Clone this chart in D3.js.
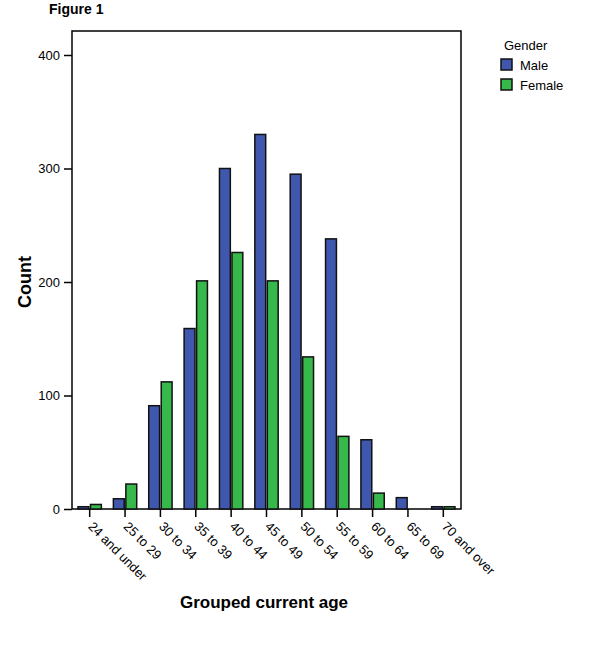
<!DOCTYPE html>
<html>
<head>
<meta charset="utf-8">
<script src="https://cdn.jsdelivr.net/npm/d3@7"></script>
<style>
  body { margin: 0; background: #fff; }
  text { font-family: "Liberation Sans", Arial, sans-serif; }
</style>
</head>
<body>
<svg id="chart" width="600" height="659"></svg>
<script>
// data
var ageGroups = ["24 and under", "25 to 29", "30 to 34", "35 to 39", "40 to 44", "45 to 49",
                 "50 to 54", "55 to 59", "60 to 64", "65 to 69", "70 and over"];
var genders = ["Male", "Female"];
var maleCounts = [2, 9, 91, 159, 300, 330, 295, 238, 61, 10, 2];
var femaleCounts = [4, 22, 112, 201, 226, 201, 134, 64, 14, 0, 2];
var yTicks = [0, 100, 200, 300, 400];
var colors = { Male: "#3f58ad", Female: "#36b84a" };

var svg = d3.select("#chart");
var plotLeft = 72, plotRight = 461, plotTop = 31, plotBottom = 509;

var x = d3.scaleBand().domain(ageGroups).range([plotLeft, plotRight])
	.paddingInner(0.34).paddingOuter(0.17);
var xInner = d3.scaleBand().domain(genders).range([0, x.bandwidth()]).paddingInner(0.13);
var y = d3.scaleLinear().domain([0, 400]).range([plotBottom, 55]);

// frame
svg.append("rect")
	.attr("x", plotLeft).attr("y", plotTop)
	.attr("width", plotRight - plotLeft).attr("height", plotBottom - plotTop)
	.attr("fill", "none").attr("stroke", "#000").attr("stroke-width", 1.5);

// bars
var rows = ageGroups.map(function (a, i) {
	return { age: a, Male: maleCounts[i], Female: femaleCounts[i] };
});
var groups = svg.append("g").selectAll("g").data(rows).enter().append("g")
	.attr("transform", function (d) { return "translate(" + x(d.age) + ",0)"; });
groups.selectAll("rect")
	.data(function (d) { return genders.map(function (g) { return { g: g, v: d[g] }; }); })
	.enter().filter(function (d) { return d.v > 0; }).append("rect")
	.attr("x", function (d) { return xInner(d.g); })
	.attr("y", function (d) { return y(d.v); })
	.attr("width", xInner.bandwidth())
	.attr("height", function (d) { return y(0) - y(d.v); })
	.attr("fill", function (d) { return colors[d.g]; })
	.attr("stroke", "#111").attr("stroke-width", 1.5);

// y axis
var yAxis = svg.append("g").attr("transform", "translate(" + plotLeft + ",0)")
	.call(d3.axisLeft(y).tickValues(yTicks).tickSize(8).tickPadding(4));
yAxis.select(".domain").remove();
yAxis.selectAll("line").attr("stroke", "#000").attr("stroke-width", 1.5);
yAxis.selectAll("text").attr("font-size", 13).attr("fill", "#000")
	.style("font-family", "Liberation Sans, Arial, sans-serif");

// x axis
var xAxis = svg.append("g").attr("transform", "translate(0," + plotBottom + ")")
	.call(d3.axisBottom(x).tickSize(8));
xAxis.select(".domain").remove();
xAxis.selectAll("line").attr("stroke", "#000").attr("stroke-width", 1.5);
xAxis.selectAll("text")
	.attr("font-size", 13).attr("fill", "#000")
	.style("font-family", "Liberation Sans, Arial, sans-serif")
	.attr("text-anchor", "start")
	.attr("x", 0).attr("y", 0).attr("dy", "0.35em")
	.attr("transform", "translate(1,15) rotate(45)");

// titles
svg.append("text").attr("x", 49).attr("y", 14)
	.attr("font-size", 14).attr("font-weight", "bold").text("Figure 1");
svg.append("text")
	.attr("transform", "translate(31,282) rotate(-90)")
	.attr("text-anchor", "middle").attr("font-size", 18).attr("font-weight", "bold")
	.text("Count");
svg.append("text").attr("x", 264).attr("y", 608)
	.attr("text-anchor", "middle").attr("font-size", 17).attr("font-weight", "bold")
	.text("Grouped current age");

// legend
var legend = svg.append("g");
legend.append("text").attr("x", 504).attr("y", 50).attr("font-size", 13).text("Gender");
genders.forEach(function (g, i) {
	legend.append("rect")
		.attr("x", 501).attr("y", 59 + i * 20)
		.attr("width", 11).attr("height", 11)
		.attr("fill", colors[g]).attr("stroke", "#111").attr("stroke-width", 1.5);
	legend.append("text")
		.attr("x", 520).attr("y", 70 + i * 20)
		.attr("font-size", 13).text(g);
});
</script>
</body>
</html>
